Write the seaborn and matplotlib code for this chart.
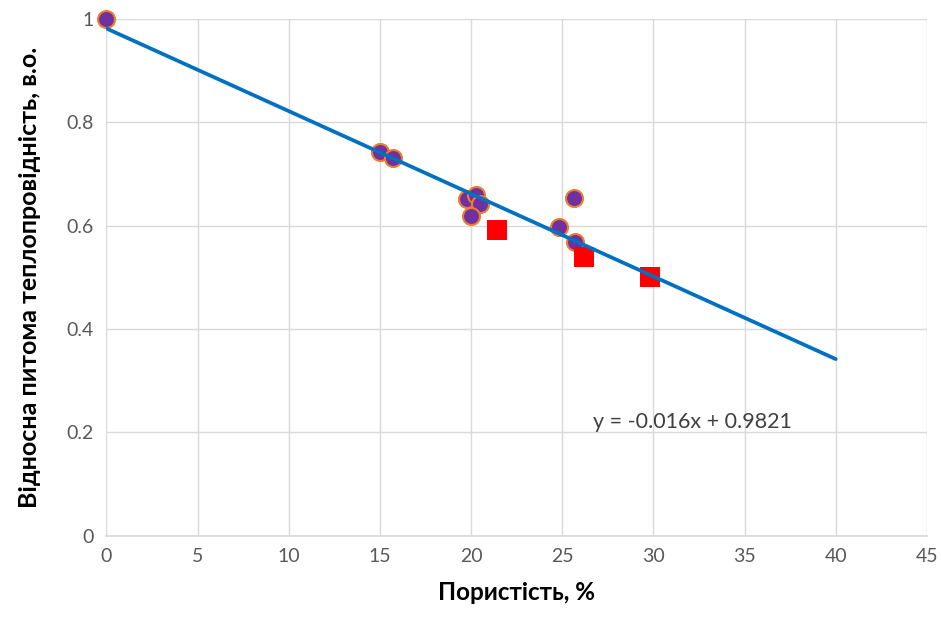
import numpy as np
import pandas as pd
import seaborn as sns
from matplotlib import pyplot as plt

# measured points (circles)
por_meas = [0.0, 15.0, 15.7, 19.8, 20.3, 20.5, 20.0, 24.8, 25.65, 25.7]
k_meas = [1.0, 0.743, 0.731, 0.652, 0.660, 0.642, 0.619, 0.598, 0.654, 0.569]

# other points (squares)
por_sq = [21.4, 26.2, 29.8]
k_sq = [0.592, 0.540, 0.501]

# trend line
slope = -0.016
intercept = 0.9821
trend_x = [0, 40]

sns.set_theme(style="white")
plt.rcParams['font.family'] = ['Lato', 'DejaVu Sans']

df_meas = pd.DataFrame({'x': por_meas, 'y': k_meas})
df_sq = pd.DataFrame({'x': por_sq, 'y': k_sq})
df_line = pd.DataFrame({'x': trend_x, 'y': [slope * v + intercept for v in trend_x]})

fig, ax = plt.subplots(figsize=(9.41, 6.18), dpi=100)

sns.scatterplot(data=df_meas, x='x', y='y', ax=ax, marker='o', s=150,
                color='#7030A0', edgecolor='#ED7D31', linewidth=1.5, zorder=3,
                clip_on=False)
sns.scatterplot(data=df_sq, x='x', y='y', ax=ax, marker='s', s=190,
                color='#FF0000', edgecolor='#FF0000', linewidth=0, zorder=3)
sns.lineplot(data=df_line, x='x', y='y', ax=ax, color='#0070C0', linewidth=2.7, zorder=4)

ax.text(26.7, 0.22, 'y = -0.016x + 0.9821', fontsize=15.5, color='#404040', va='center')

ax.set_xlim(0, 45)
ax.set_ylim(0, 1)
ax.set_xticks(np.arange(0, 46, 5))
ax.set_yticks([0, 0.2, 0.4, 0.6, 0.8, 1])
ax.set_yticklabels(['0', '0.2', '0.4', '0.6', '0.8', '1'])
ax.grid(True, color='#d9d9d9', linewidth=1)
ax.set_axisbelow(True)
for s in ['top', 'right', 'left']:
    ax.spines[s].set_visible(False)
ax.spines['bottom'].set_color('#d9d9d9')
ax.tick_params(axis='both', colors='#595959', labelsize=14, length=0, pad=9)

ax.set_xlabel('Пористість, %', fontsize=17.5, fontweight='bold', color='black', labelpad=11)
ax.set_ylabel('Відносна питома теплопровідність, в.о.', fontsize=18, fontweight='bold',
              color='black', labelpad=18)

plt.subplots_adjust(left=0.113, right=0.985, top=0.969, bottom=0.133)
plt.savefig('out.png', dpi=100)
